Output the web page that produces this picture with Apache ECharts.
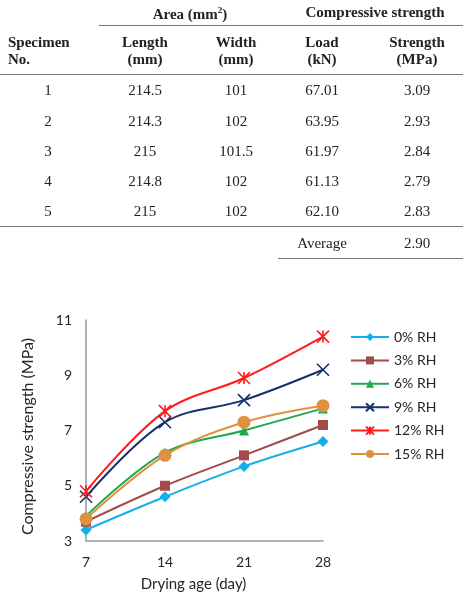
<!DOCTYPE html>
<html>
<head>
<meta charset="utf-8">
<script src="https://cdn.jsdelivr.net/npm/echarts@6/dist/echarts.min.js"></script>
<style>
  body { margin: 0; width: 463px; height: 595px; background: #fff; overflow: hidden; }
  #chart { position: absolute; left: 0; top: 0; width: 463px; height: 595px; }
  #table { position: absolute; left: 0; top: 0; width: 463px; height: 270px;
           font-family: "Liberation Serif", "Times New Roman", serif; font-size: 15px; color: #222; }
  .cell { position: absolute; white-space: nowrap; transform: translate(-50%, -50%); line-height: 17px; text-align: center; }
  .left { transform: translate(0, -50%); text-align: left; }
  .bold { font-weight: bold; }
  .rule { position: absolute; height: 0; border-top: 1.5px solid #777; }
</style>
</head>
<body>
<div id="chart"></div>
<div id="table"></div>
<script>
// table data
const headGroups = ['Area (mm<sup style="font-size:9px">2</sup>)', 'Compressive strength'];
const headCols = ['Length<br>(mm)', 'Width<br>(mm)', 'Load<br>(kN)', 'Strength<br>(MPa)'];
const specimens = ['1', '2', '3', '4', '5'];
const lengths = ['214.5', '214.3', '215', '214.8', '215'];
const widths = ['101', '102', '101.5', '102', '102'];
const loads = ['67.01', '63.95', '61.97', '61.13', '62.10'];
const strengths = ['3.09', '2.93', '2.84', '2.79', '2.83'];
const averageLabel = 'Average';
const averageValue = '2.90';

// chart data
const ages = ['7', '14', '21', '28'];
const seriesNames = ['0% RH', '3% RH', '6% RH', '9% RH', '12% RH', '15% RH'];
const rh0 = [3.4, 4.6, 5.7, 6.6];
const rh3 = [3.7, 5.0, 6.1, 7.2];
const rh6 = [3.9, 6.2, 7.0, 7.8];
const rh9 = [4.6, 7.3, 8.1, 9.2];
const rh12 = [4.8, 7.7, 8.9, 10.4];
const rh15 = [3.8, 6.1, 7.3, 7.9];

// build table
const tbl = document.getElementById('table');
const colX = [48, 145, 236, 322, 417];
const rowY = [90, 120.5, 151, 181, 211];
function cell(html, x, y, cls) {
  const d = document.createElement('div');
  d.className = 'cell ' + (cls || '');
  d.style.left = x + 'px';
  d.style.top = y + 'px';
  d.innerHTML = html;
  tbl.appendChild(d);
}
function rule(x1, x2, y) {
  const d = document.createElement('div');
  d.className = 'rule';
  d.style.left = x1 + 'px';
  d.style.width = (x2 - x1) + 'px';
  d.style.top = y + 'px';
  tbl.appendChild(d);
}
cell(headGroups[0], 190, 12, 'bold');
cell(headGroups[1], 375, 12, 'bold');
rule(99, 463, 25);
cell('Specimen<br>No.', 8, 51, 'bold left');
headCols.forEach((h, i) => cell(h, colX[i + 1], 51, 'bold'));
rule(0, 463, 74);
specimens.forEach((s, i) => {
  cell(s, colX[0], rowY[i]);
  cell(lengths[i], colX[1], rowY[i]);
  cell(widths[i], colX[2], rowY[i]);
  cell(loads[i], colX[3], rowY[i]);
  cell(strengths[i], colX[4], rowY[i]);
});
rule(0, 463, 226);
cell(averageLabel, colX[3], 243);
cell(averageValue, colX[4], 243);
rule(278, 463, 258);

// chart
const myChart = echarts.init(document.getElementById('chart'));
const xMark = 'path://M0,0L10,10M10,0L0,10';
const starMark = 'path://M0,0L10,10M10,0L0,10M5,0L5,10';
const styles = [
  { color: '#16ADEB', symbol: 'diamond', size: 11 },
  { color: '#A34B4B', symbol: 'rect', size: 10 },
  { color: '#1FAA4F', symbol: 'triangle', size: 10 },
  { color: '#16306A', symbol: xMark, size: 12, stroke: true },
  { color: '#FF1A1A', symbol: starMark, size: 12, stroke: true },
  { color: '#E0913F', symbol: 'circle', size: 13 }
];
const values = [rh0, rh3, rh6, rh9, rh12, rh15];
const font = 'Lato, "Open Sans", sans-serif';
const textColor = '#262626';

const option = {
  animation: false,
  grid: { left: 86, right: 140, top: 320, bottom: 54 },
  legend: {
    orient: 'vertical',
    left: 345,
    top: 325,
    itemWidth: 38,
    itemHeight: 10,
    itemGap: 9.4,
    textStyle: { fontFamily: font, fontSize: 14, color: textColor },
    data: seriesNames
  },
  xAxis: {
    type: 'category',
    data: ages,
    boundaryGap: false,
    name: 'Drying age (day)',
    nameLocation: 'middle',
    nameGap: 36,
    nameTextStyle: { fontFamily: font, fontSize: 15, color: textColor, padding: [0, 22, 0, 0] },
    axisLine: { lineStyle: { color: '#999', width: 1.5 } },
    axisTick: { show: false },
    axisLabel: { fontFamily: font, fontSize: 14, color: textColor, margin: 14 },
    splitLine: { show: false }
  },
  yAxis: {
    type: 'value',
    min: 3,
    max: 11,
    interval: 2,
    name: 'Compressive strength (MPa)',
    nameLocation: 'middle',
    nameGap: 50,
    nameTextStyle: { fontFamily: font, fontSize: 16, color: textColor, padding: [0, 12, 0, 0] },
    axisLine: { show: true, lineStyle: { color: '#999', width: 1.5 } },
    axisTick: { show: false },
    axisLabel: { fontFamily: font, fontSize: 14, color: textColor, margin: 14 },
    splitLine: { show: false }
  },
  series: seriesNames.map((name, i) => ({
    name: name,
    type: 'line',
    data: values[i],
    smooth: 0.35,
    symbol: styles[i].symbol,
    symbolSize: styles[i].size,
    lineStyle: { color: styles[i].color, width: 2 },
    itemStyle: styles[i].stroke
      ? { color: styles[i].color, borderColor: styles[i].color, borderWidth: 1.6 }
      : { color: styles[i].color }
  }))
};

myChart.setOption(option);
window.addEventListener('resize', () => myChart.resize());
</script>
</body>
</html>
